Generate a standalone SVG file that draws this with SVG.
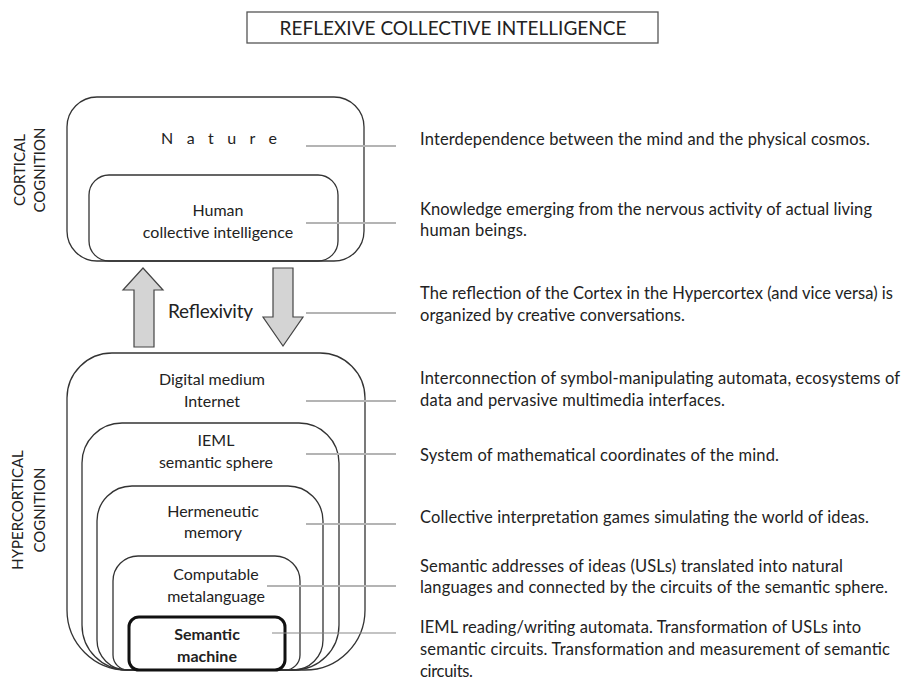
<svg xmlns="http://www.w3.org/2000/svg" width="909" height="682" viewBox="0 0 909 682">
<style>
text{font-family:Lato,"Open Sans","Liberation Sans",sans-serif;fill:#222;}
.box{fill:none;stroke:#333;stroke-width:1.3;}
.lbl{font-size:16px;text-anchor:middle;}
.desc{font-size:16.5px;}
.side{font-size:15px;text-anchor:middle;}
.lead{stroke:#b4b4b4;stroke-width:2;}
.arrow{fill:#d4d4d4;stroke:#444;stroke-width:1.2;}
</style>
<rect width="909" height="682" fill="#fff"/>
<g id="title">
<rect x="247" y="12" width="411" height="31" fill="none" stroke="#555" stroke-width="1.3"/>
<text x="453" y="35" font-size="19" text-anchor="middle" textLength="347">REFLEXIVE COLLECTIVE INTELLIGENCE</text>
</g>
<g id="side-labels">
<text class="side" transform="translate(25,170) rotate(-90)">CORTICAL</text>
<text class="side" transform="translate(45,170) rotate(-90)">COGNITION</text>
<text class="side" transform="translate(23,510) rotate(-90)">HYPERCORTICAL</text>
<text class="side" transform="translate(45,510) rotate(-90)">COGNITION</text>
</g>
<g id="nature">
<rect class="box" x="67" y="97" width="297" height="164" rx="30"/>
<text class="lbl" x="219" y="144" textLength="116">N a t u r e</text>
</g>
<g id="human">
<rect class="box" x="89" y="175" width="249" height="86" rx="20"/>
<text class="lbl" x="218" y="216">Human</text>
<text class="lbl" x="218" y="238">collective intelligence</text>
</g>
<g id="reflexivity">
<polygon class="arrow" points="143,268 163,290 154,290 154,347 134,347 134,290 123,290"/>
<polygon class="arrow" points="273,268 293,268 293,317 303,317 283,346 263,317 273,317"/>
<text x="168" y="318" font-size="19" textLength="85">Reflexivity</text>
</g>
<g id="digital">
<path class="box" d="M112,353 H320 A45,45 0 0 1 365,398 V610 A60,60 0 0 1 305,670 H127 A60,60 0 0 1 67,610 V398 A45,45 0 0 1 112,353 Z"/>
<text class="lbl" x="212" y="385">Digital medium</text>
<text class="lbl" x="212" y="407">Internet</text>
</g>
<g id="ieml">
<path class="box" d="M122,423 H299 A40,40 0 0 1 339,463 V625 A45,45 0 0 1 294,670 H127 A45,45 0 0 1 82,625 V463 A40,40 0 0 1 122,423 Z"/>
<text class="lbl" x="216" y="446">IEML</text>
<text class="lbl" x="216" y="468">semantic sphere</text>
</g>
<g id="hermeneutic">
<path class="box" d="M132,486 H288 A35,35 0 0 1 323,521 V640 A30,30 0 0 1 293,670 H127 A30,30 0 0 1 97,640 V521 A35,35 0 0 1 132,486 Z"/>
<text class="lbl" x="213" y="517">Hermeneutic</text>
<text class="lbl" x="213" y="538">memory</text>
</g>
<g id="computable">
<path class="box" d="M138,556 H275 A25,25 0 0 1 300,581 V655 A15,15 0 0 1 285,670 H128 A15,15 0 0 1 113,655 V581 A25,25 0 0 1 138,556 Z"/>
<text class="lbl" x="216" y="580">Computable</text>
<text class="lbl" x="216" y="602">metalanguage</text>
</g>
<g id="semantic-machine">
<rect x="129" y="617" width="156" height="53" rx="10" fill="none" stroke="#111" stroke-width="3"/>
<text class="lbl" x="207" y="640" font-weight="bold">Semantic</text>
<text class="lbl" x="207" y="662" font-weight="bold">machine</text>
</g>
<g id="connectors">
<line class="lead" x1="306" y1="146" x2="396" y2="146"/>
<line class="lead" x1="306" y1="223" x2="396" y2="223"/>
<line class="lead" x1="306" y1="313" x2="396" y2="313"/>
<line class="lead" x1="306" y1="401" x2="396" y2="401"/>
<line class="lead" x1="306" y1="454" x2="396" y2="454"/>
<line class="lead" x1="306" y1="524" x2="396" y2="524"/>
<line class="lead" x1="267" y1="586" x2="396" y2="586"/>
<line x1="272" y1="633" x2="396" y2="633" stroke="#888" stroke-width="1.2"/>
</g>
<g id="descriptions">
<text class="desc" x="420" y="145" textLength="450">Interdependence between the mind and the physical cosmos.</text>
<text class="desc" x="420" y="215" textLength="452">Knowledge emerging from the nervous activity of actual living</text>
<text class="desc" x="420" y="236" textLength="107">human beings.</text>
<text class="desc" x="420" y="299" textLength="473">The reflection of the Cortex in the Hypercortex (and vice versa) is</text>
<text class="desc" x="420" y="321" textLength="265">organized by creative conversations.</text>
<text class="desc" x="420" y="384" textLength="480">Interconnection of symbol-manipulating automata, ecosystems of</text>
<text class="desc" x="420" y="406" textLength="305">data and pervasive multimedia interfaces.</text>
<text class="desc" x="420" y="461" textLength="359">System of mathematical coordinates of the mind.</text>
<text class="desc" x="420" y="523" textLength="449">Collective interpretation games simulating the world of ideas.</text>
<text class="desc" x="420" y="572" textLength="423">Semantic addresses of ideas (USLs) translated into natural</text>
<text class="desc" x="420" y="593" textLength="468">languages and connected by the circuits of the semantic sphere.</text>
<text class="desc" x="420" y="633" textLength="441">IEML reading/writing automata. Transformation of USLs into</text>
<text class="desc" x="420" y="655" textLength="470">semantic circuits. Transformation and measurement of semantic</text>
<text class="desc" x="420" y="677" textLength="53">circuits.</text>
</g>
</svg>
